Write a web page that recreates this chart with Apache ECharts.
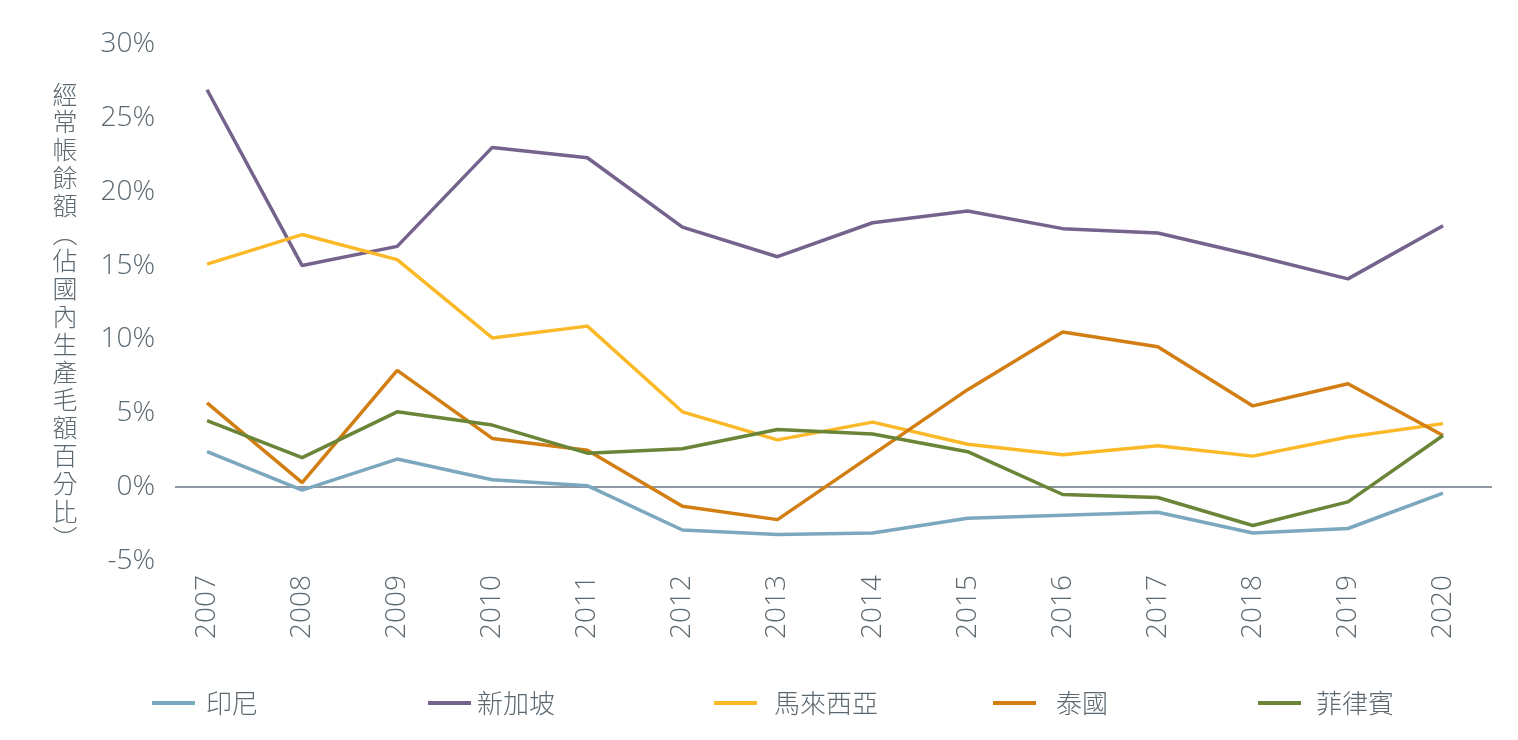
<!DOCTYPE html>
<html>
<head>
<meta charset="utf-8">
<script src="https://cdn.jsdelivr.net/npm/echarts@6/dist/echarts.min.js"></script>
<style>html,body{margin:0;padding:0;background:#fff}#c{width:1518px;height:740px}</style>
</head>
<body>
<div id="c"></div>
<script>
const years = [2007,2008,2009,2010,2011,2012,2013,2014,2015,2016,2017,2018,2019,2020];
const yTicks = [-5,0,5,10,15,20,25,30];
const seriesNames = ['印尼','新加坡','馬來西亞','泰國','菲律賓'];
const indonesia   = [2.4,-0.2,1.9,0.5,0.1,-2.9,-3.2,-3.1,-2.1,-1.9,-1.7,-3.1,-2.8,-0.4];
const singapore   = [26.9,15.0,16.3,23.0,22.3,17.6,15.6,17.9,18.7,17.5,17.2,15.7,14.1,17.7];
const malaysia    = [15.1,17.1,15.4,10.1,10.9,5.1,3.2,4.4,2.9,2.2,2.8,2.1,3.4,4.3];
const thailand    = [5.7,0.3,7.9,3.3,2.5,-1.3,-2.2,2.2,6.6,10.5,9.5,5.5,7.0,3.5];
const philippines = [4.5,2.0,5.1,4.2,2.3,2.6,3.9,3.6,2.4,-0.5,-0.7,-2.6,-1.0,3.5];
const colors = ['#7ba7bf','#75638e','#fbb928','#d27e12','#6a8438'];
const allValues = [indonesia, singapore, malaysia, thailand, philippines];
const yName = '\n' + ['經','常','帳','餘','額','︵','佔','國','內','生','產','毛','額','百','分','比','︶'].join('\n');

const txt = '#5c6870';
const latin = '"Open Sans", "Noto Sans CJK TC", sans-serif';
const cjk = '"Noto Sans CJK TC", sans-serif';

const legendPos = [
  {left:152, pad:6},
  {left:428, pad:1},
  {left:714, pad:12},
  {left:993, pad:15},
  {left:1258, pad:10}
];

const chart = echarts.init(document.getElementById('c'), null, {renderer:'canvas'});
chart.setOption({
  animation:false,
  backgroundColor:'#fff',
  grid:{left:175, right:26, top:44, bottom:179, containLabel:false},
  xAxis:{
    type:'value', min:2006.663, max:2020.515,
    axisLine:{show:false}, axisTick:{show:false}, splitLine:{show:false},
    axisLabel:{customValues:years, rotate:90, margin:14, fontSize:28, fontWeight:300, color:txt, fontFamily:latin,
      formatter:v=>String(v)}
  },
  yAxis:{
    type:'value', min:-5, max:30, interval:5,
    axisLine:{show:false}, axisTick:{show:false}, splitLine:{show:false},
    axisLabel:{fontSize:28, fontWeight:300, color:txt, fontFamily:latin, margin:20, formatter:'{value}%'},
    name:yName, nameLocation:'middle', nameRotate:0, nameGap:110,
    nameTextStyle:{fontSize:25, fontWeight:300, lineHeight:27.8, color:txt, fontFamily:cjk, align:'center'}
  },
  legend: legendPos.map((p,i)=>({
    data:[seriesNames[i]], left:p.left, top:690, padding:0, icon:'rect', itemWidth:43, itemHeight:4,
    textStyle:{fontSize:26, fontWeight:300, color:txt, fontFamily:cjk, padding:[0,0,0,p.pad]}
  })),
  series: allValues.map((vals,i)=>({
    name:seriesNames[i], type:'line', data:years.map((y,j)=>[y, vals[j]]),
    showSymbol:false, symbol:'none', lineStyle:{width:3.5, color:colors[i]}, itemStyle:{color:colors[i]},
    z: 3,
    markLine: i===0 ? {silent:true, symbol:'none', label:{show:false},
      lineStyle:{color:'#6b7480', width:1.5, type:'solid'}, data:[{yAxis:0}], z:1} : undefined
  }))
});
</script>
</body>
</html>
